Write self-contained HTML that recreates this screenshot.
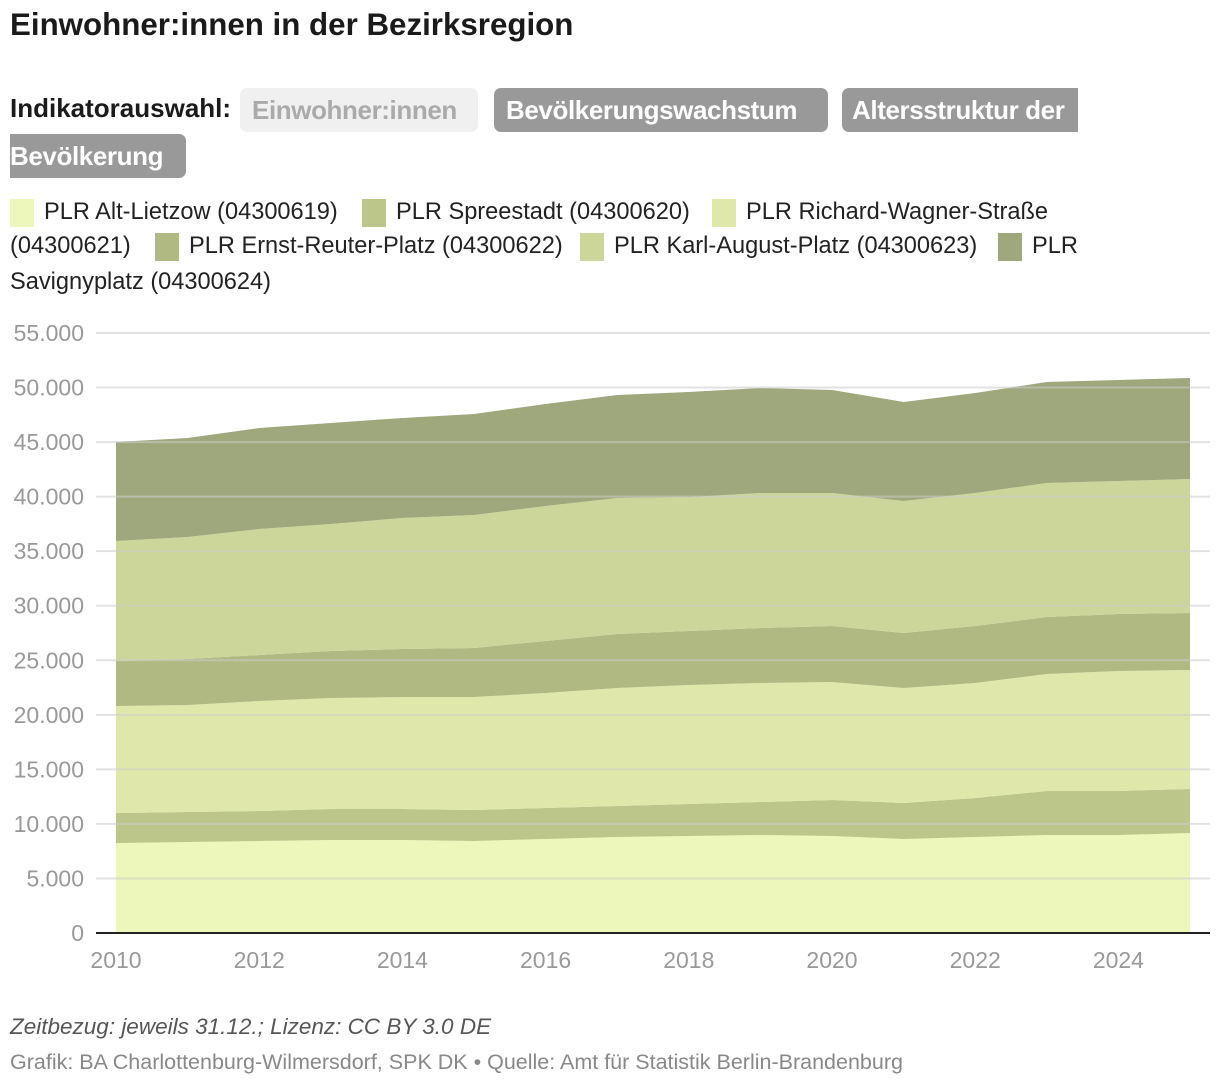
<!DOCTYPE html>
<html><head><meta charset="utf-8">
<style>
body{margin:0;width:1220px;height:1088px;background:#fff;font-family:"Liberation Sans",Roboto,sans-serif;position:relative;overflow:hidden}
.abs{position:absolute;white-space:nowrap}
.btn{position:absolute;background:#999;color:#fff;font-weight:bold;font-size:26px;border-radius:7px;height:44px;line-height:44px;padding:0 12px;box-sizing:border-box;white-space:nowrap;overflow:hidden;letter-spacing:-0.4px}
.leg{position:absolute;font-size:23.6px;color:#222;white-space:nowrap;line-height:28px}
.sw{position:absolute;width:24px;height:28px}
</style></head><body>
<div class="abs" style="left:10px;top:7px;font-size:31.3px;font-weight:bold;color:#1a1a1a">Einwohner:innen in der Bezirksregion</div>
<div class="abs" style="left:10px;top:93px;font-size:26px;font-weight:bold;color:#1a1a1a">Indikatorauswahl:</div>
<div class="btn" style="left:240px;top:88px;width:238px;background:#f0f0f0;color:#aaa">Einwohner:innen</div>
<div class="btn" style="left:494px;top:88px;width:334px">Bevölkerungswachstum</div>
<div class="btn" style="left:842px;top:88px;width:236px;padding-left:10px;border-radius:7px 0 0 7px">Altersstruktur der</div>
<div class="btn" style="left:10px;top:134px;width:176px;padding-left:0;border-radius:0 7px 7px 0">Bevölkerung</div>

<div class="sw" style="left:10px;top:199px;background:#eef7bb"></div>
<div class="leg" style="left:44px;top:198px">PLR Alt-Lietzow (04300619)</div>
<div class="sw" style="left:362px;top:199px;background:#bcc68a"></div>
<div class="leg" style="left:396px;top:198px">PLR Spreestadt (04300620)</div>
<div class="sw" style="left:712px;top:199px;background:#dfe7ab"></div>
<div class="leg" style="left:746px;top:198px">PLR Richard-Wagner-Straße</div>
<div class="leg" style="left:10px;top:232px">(04300621)</div>
<div class="sw" style="left:155px;top:233px;background:#b0b982"></div>
<div class="leg" style="left:189px;top:232px">PLR Ernst-Reuter-Platz (04300622)</div>
<div class="sw" style="left:580px;top:233px;background:#ccd69a"></div>
<div class="leg" style="left:614px;top:232px">PLR Karl-August-Platz (04300623)</div>
<div class="sw" style="left:998px;top:233px;background:#9ea87c"></div>
<div class="leg" style="left:1032px;top:232px">PLR</div>
<div class="leg" style="left:10px;top:268px">Savignyplatz (04300624)</div>

<svg id="chart" width="1220" height="1000" style="position:absolute;left:0;top:0"></svg>

<div class="abs" style="left:10px;top:1014px;font-size:22.5px;font-style:italic;color:#555">Zeitbezug: jeweils 31.12.; Lizenz: CC BY 3.0 DE</div>
<div class="abs" style="left:10px;top:1050px;font-size:21.5px;color:#888">Grafik: BA Charlottenburg-Wilmersdorf, SPK DK • Quelle: Amt für Statistik Berlin-Brandenburg</div>

<script>
const years=[2010,2011,2012,2013,2014,2015,2016,2017,2018,2019,2020,2021,2022,2023,2024,2025];
const s1=[8250,8340,8430,8520,8520,8430,8620,8800,8890,8980,8890,8620,8800,8980,8980,9170];
const s2=[2750,2750,2750,2850,2850,2850,2840,2840,2930,3030,3300,3300,3580,4040,4040,4030];
const s3=[9810,9810,10090,10170,10260,10350,10540,10820,10910,10910,10820,10540,10540,10720,11000,10910];
const s4=[4120,4220,4210,4310,4400,4500,4770,4950,4950,5040,5130,5040,5220,5230,5220,5220];
const s5=[11000,11180,11550,11640,12010,12190,12370,12460,12280,12370,12190,12100,12190,12280,12190,12290];
const s6=[9080,9080,9260,9260,9170,9260,9350,9450,9630,9630,9450,9080,9170,9260,9260,9260];
const yTicks=[0,5000,10000,15000,20000,25000,30000,35000,40000,45000,50000,55000];
const xTicks=[2010,2012,2014,2016,2018,2020,2022,2024];
const colors=['#eef7bb','#bcc68a','#dfe7ab','#b0b982','#ccd69a','#9ea87c'];
const series=[s1,s2,s3,s4,s5,s6];
const NS='http://www.w3.org/2000/svg';
const svg=document.getElementById('chart');
const x=v=>116+(v-2010)*(1190-116)/15;
const y=v=>933-v*600/55000;
function mk(t,a){const e=document.createElementNS(NS,t);for(const k in a)e.setAttribute(k,a[k]);svg.appendChild(e);return e;}
let base=years.map(()=>0);
series.forEach((s,i)=>{
  const top=base.map((b,j)=>b+s[j]);
  let d='M'+years.map((yr,j)=>x(yr)+','+y(top[j])).join(' L');
  for(let j=years.length-1;j>=0;j--) d+=' L'+x(years[j])+','+y(base[j]);
  const p=mk('path',{d:d+'Z',fill:colors[i]});
  
  
  base=top;
});
yTicks.forEach(t=>{
  if(t>0){const l=mk('line',{x1:96,x2:1210,y1:y(t),y2:y(t),stroke:'#ccc','stroke-width':2,opacity:0.55});
  
  }
  const tx=mk('text',{x:84,y:y(t)+8,'text-anchor':'end','font-size':23,fill:'#999','font-family':'Liberation Sans, sans-serif'});
  tx.textContent=t===0?'0':t.toLocaleString('de-DE');
  
  
});
const ax=mk('line',{x1:96,x2:1210,y1:933,y2:933,stroke:'#222','stroke-width':2});


xTicks.forEach(t=>{
  const tx=mk('text',{x:x(t),y:968,'text-anchor':'middle','font-size':23,fill:'#999','font-family':'Liberation Sans, sans-serif'});
  tx.textContent=t;
  
  
});
</script>
</body></html>
